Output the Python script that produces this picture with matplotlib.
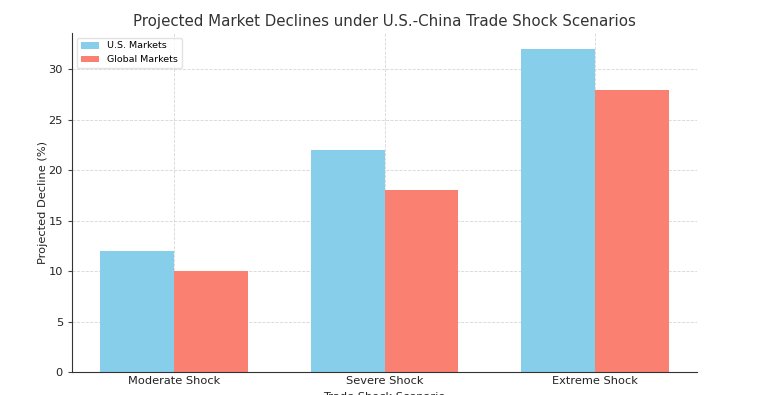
import matplotlib
matplotlib.use("Agg")
import matplotlib.pyplot as plt
import numpy as np

categories = ["Moderate Shock", "Severe Shock", "Extreme Shock"]
us_markets = [12, 22, 32]
global_markets = [10, 18, 28]
series_labels = ["U.S. Markets", "Global Markets"]

fig = plt.figure(figsize=(7.6, 3.95), dpi=100)
ax = fig.add_axes([72/760, 23/395, 625/760, 339/395])

x = np.arange(len(categories))
w = 0.35
ax.bar(x - w/2, us_markets, w, color="skyblue", label=series_labels[0], zorder=2)
ax.bar(x + w/2, global_markets, w, color="salmon", label=series_labels[1], zorder=2)

ax.set_xticks(x)
ax.set_xticklabels(categories, fontsize=8.2, color="#222222")
ax.tick_params(axis="y", labelsize=8.2, length=3, color="#444444", labelcolor="#222222")
ax.tick_params(axis="x", length=0, pad=3)
ax.set_ylabel("Projected Decline (%)", fontsize=8.2, labelpad=0, color="#222222")
ax.set_xlabel("Trade Shock Scenario", fontsize=8.2, color="#222222")
ax.set_title("Projected Market Declines under U.S.-China Trade Shock Scenarios", fontsize=10.8, color="#333333", pad=5)
ax.grid(True, linestyle="--", color="#cccccc", linewidth=0.6, alpha=0.8, zorder=0)
ax.set_axisbelow(True)
for s in ["top", "right"]:
    ax.spines[s].set_visible(False)
for s in ["left", "bottom"]:
    ax.spines[s].set_color("#333333")
leg = ax.legend(loc="upper left", fontsize=6.8, frameon=True)
leg.get_frame().set_edgecolor("#dddddd")

fig.savefig("out.png", dpi=100)
